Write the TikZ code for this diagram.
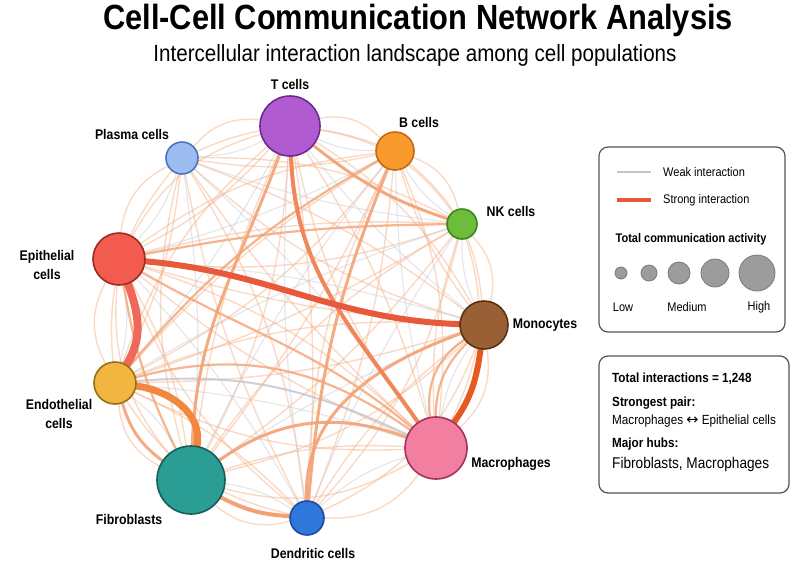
\documentclass[tikz,border=0pt]{standalone}
\usepackage{fontspec}
\setmainfont[FakeStretch=0.88]{Liberation Sans}
\newfontfamily\symfont{DejaVu Sans}
\usetikzlibrary{backgrounds}
\definecolor{weakor}{HTML}{F6B48C}
\definecolor{weakgr}{HTML}{C2C5CE}
\definecolor{midor}{HTML}{F4A274}
\definecolor{midor2}{HTML}{F0875A}
\definecolor{cEM}{HTML}{E8583B}
\definecolor{cEE}{HTML}{EE6959}
\definecolor{cEF}{HTML}{F2883F}
\definecolor{cMM}{HTML}{E65A1F}
\definecolor{cT}{HTML}{B05CD0}\definecolor{cTd}{HTML}{6B2C8C}
\definecolor{cP}{HTML}{9DBDF0}\definecolor{cPd}{HTML}{4B74C2}
\definecolor{cB}{HTML}{F89A2E}\definecolor{cBd}{HTML}{C06A12}
\definecolor{cNK}{HTML}{6CBE3A}\definecolor{cNKd}{HTML}{3B871C}
\definecolor{cEp}{HTML}{F25B4D}\definecolor{cEpd}{HTML}{9E2A22}
\definecolor{cMo}{HTML}{9A6035}\definecolor{cMod}{HTML}{573314}
\definecolor{cEn}{HTML}{F2B540}\definecolor{cEnd}{HTML}{987012}
\definecolor{cMa}{HTML}{F27FA0}\definecolor{cMad}{HTML}{A2345E}
\definecolor{cFi}{HTML}{2A9E95}\definecolor{cFid}{HTML}{155F58}
\definecolor{cD}{HTML}{3077DC}\definecolor{cDd}{HTML}{1A4EA2}
\definecolor{lgfill}{HTML}{9C9C9C}\definecolor{lgdraw}{HTML}{7A7A7A}
\definecolor{boxdraw}{HTML}{555555}
\newcommand\myfs[1]{\fontsize{#1}{#1}\selectfont}
\begin{document}
\begin{tikzpicture}[x=1pt,y=-1pt,
  cell/.style={circle, line width=1.6pt, inner sep=0pt},
  lbl/.style={font=\bfseries\myfs{14}, align=center, inner sep=0pt},
  lbltwo/.style={font=\bfseries\fontsize{14}{19}\selectfont, align=center, inner sep=0pt},
  weak/.style={draw=weakor, line width=1.4pt, draw opacity=0.5, line cap=round},
  weakg/.style={draw=weakgr, line width=1.2pt, draw opacity=0.4, line cap=round},
  midl/.style={draw=midor, line width=2.2pt, draw opacity=0.8, line cap=round},
  midb/.style={draw=midor, line width=3pt, draw opacity=0.9, line cap=round},
  midd/.style={draw=midor2, line width=4pt, line cap=round},
  midg/.style={draw=weakgr, line width=2pt, draw opacity=0.8, line cap=round},
  strong/.style={line width=6pt, line cap=round},
  box/.style={draw=boxdraw, line width=1.2pt, rounded corners=9pt, fill=white},
  legtxt/.style={font=\myfs{12.5}, inner sep=0pt},
  legcirc/.style={circle, fill=lgfill, draw=lgdraw, line width=0.8pt, inner sep=0pt},
  infob/.style={font=\bfseries\myfs{13.3}, anchor=west, inner sep=0pt},
  infor/.style={font=\myfs{13.3}, anchor=west, inner sep=0pt}]
\useasboundingbox (0,0) rectangle (800,568);

% title
\node[font=\bfseries\myfs{35}, inner sep=0pt] (title) at (418,20) {Cell-Cell Communication Network Analysis};
\node[font=\myfs{23.4}, inner sep=0pt] (subtitle) at (415,55) {Intercellular interaction landscape among cell populations};

% cells
\node[cell, minimum size=60pt, fill=cT, draw=cTd] (T) at (290,126) {};
\node[cell, minimum size=32pt, fill=cP, draw=cPd] (P) at (182,158) {};
\node[cell, minimum size=38pt, fill=cB, draw=cBd] (B) at (395,151) {};
\node[cell, minimum size=30pt, fill=cNK, draw=cNKd] (NK) at (462,224) {};
\node[cell, minimum size=52pt, fill=cEp, draw=cEpd] (Ep) at (119,259) {};
\node[cell, minimum size=48pt, fill=cMo, draw=cMod] (Mo) at (484,325) {};
\node[cell, minimum size=42pt, fill=cEn, draw=cEnd] (En) at (115,383) {};
\node[cell, minimum size=62pt, fill=cMa, draw=cMad] (Ma) at (436,448) {};
\node[cell, minimum size=68pt, fill=cFi, draw=cFid] (Fi) at (191,480) {};
\node[cell, minimum size=34pt, fill=cD, draw=cDd] (D) at (307,518) {};

% labels
\node[lbl] (Tl) at (290,84) {T cells};
\node[lbl] (Pl) at (132,134) {Plasma cells};
\node[lbl] (Bl) at (419,122) {B cells};
\node[lbl] (NKl) at (511,211) {NK cells};
\node[lbltwo] (Epl) at (47,265) {Epithelial\\cells};
\node[lbl] (Mol) at (545,325) {Monocytes};
\node[lbltwo] (Enl) at (59,414) {Endothelial\\cells};
\node[lbl] (Mal) at (511,464) {Macrophages};
\node[lbl] (Fil) at (129,519) {Fibroblasts};
\node[lbl] (Dl) at (313,553) {Dendritic cells};

\begin{scope}[on background layer]
\fill[white] (0,0) rectangle (800,568);
% faint network
\foreach \a/\b in {T/B,B/NK,NK/Mo,Mo/Ma,Ma/D,D/Fi,Fi/En,En/Ep,Ep/P,P/T}
  {\draw[weak] (\a) to[bend left=28] (\b); \draw[weakg] (\a) to[bend right=12] (\b);}
\foreach \a/\b in {T/NK,B/Mo,NK/Ma,Mo/D,Ma/Fi,D/En,Fi/Ep,En/P,Ep/T,P/B}
  {\draw[weak] (\a) to[bend left=22] (\b); \draw[weak] (\a) to[bend right=10] (\b);}
\foreach \a/\b in {T/Mo,B/Ma,NK/D,Mo/Fi,Ma/En,D/Ep,Fi/P,En/T,Ep/B,P/NK}
  {\draw[weak] (\a) to[bend left=14] (\b); \draw[weakg] (\a) to[bend right=6] (\b);}
\foreach \a/\b in {T/Ma,B/D,NK/Fi,Mo/En,Ma/Ep,D/P,Fi/T,En/B,Ep/NK,P/Mo}
  {\draw[weak] (\a) to[bend left=8] (\b); \draw[weak] (\a) to[bend right=12] (\b);}
\foreach \a/\b in {T/D,B/Fi,NK/En,Mo/Ep,Ma/P}
  {\draw[weak] (\a) to[bend left=6] (\b); \draw[weakg] (\a) to[bend right=6] (\b);}
% medium edges
\draw[midl] (Ep) to[bend left=5] (NK);
\draw[midl] (En) to[bend left=10] (B);
\draw[midl] (Ep) to[out=-30,in=140] (Ma);
\draw[midl] (En) to[out=15,in=145] (Ma);
\draw[midg] (En) to[out=5,in=155] (Ma);
\draw[midl] (Mo) to[bend right=22] (Ma);
\draw[midl] (Mo) to[bend right=32] (Ma);
\draw[midl] (Ep) to[bend right=8] (Fi);
\draw[midb] (En) to[bend right=18] (Fi);
\draw[midb] (T) to[bend right=10] (NK);
\draw[midb] (T) to[out=-110,in=88] (Fi);
\draw[midb] (B) to[out=-112,in=85] (D);
\draw[midb] (Fi) to[out=35,in=160] (Ma);
\draw[midb] (Mo) to[out=200,in=92] (D);
\draw[midd, draw=midor] (Fi) to[bend right=12] (D);
\draw[midd] (T) to[out=-88,in=125] (Ma);
% strong edges
\draw[strong, draw=cEM] (Ep) to[out=-5,in=178] (Mo);
\draw[strong, draw=cEE, line width=8pt] (Ep) to[out=-70,in=58] (En);
\draw[strong, draw=cEF, line width=7pt] (En) to[out=-8,in=80] (Fi);
\draw[strong, draw=cMM] (Mo) to[out=-98,in=55] (Ma);
\end{scope}

% legend box
\node[box, minimum width=186pt, minimum height=185pt] (leg) at (692,239.5) {};
\draw[draw=weakgr, line width=2pt] (617,172) -- (651,172);
\draw[draw=cEM, line width=4pt] (617,200) -- (651,200);
\node[legtxt, anchor=west] (lw) at (663,172) {Weak interaction};
\node[legtxt, anchor=west] (ls) at (663,200) {Strong interaction};
\node[legtxt, font=\bfseries\myfs{12.5}] (lt) at (691,239) {Total communication activity};
\node[legcirc, minimum size=12pt] (c1) at (621,273) {};
\node[legcirc, minimum size=16pt] (c2) at (649,273) {};
\node[legcirc, minimum size=22pt] (c3) at (679,273) {};
\node[legcirc, minimum size=28pt] (c4) at (715,273) {};
\node[legcirc, minimum size=36pt] (c5) at (757,273) {};
\node[legtxt] (lo) at (623,307) {Low};
\node[legtxt] (me) at (687,307) {Medium};
\node[legtxt] (hi) at (759,307) {High};

% info box
\node[box, minimum width=190pt, minimum height=137pt] (info) at (694,424.5) {};
\node[infob] (i1) at (612,379) {Total interactions = 1,248};
\node[infob] (i2) at (612,403) {Strongest pair:};
\node[infor] (i3) at (612,421) {Macrophages {\symfont\fontsize{14.5}{14.5}\selectfont ↔} Epithelial cells};
\node[infob] (i4) at (612,444) {Major hubs:};
\node[infor, font=\myfs{15.5}] (i5) at (612,464) {Fibroblasts, Macrophages};
\end{tikzpicture}
\end{document}
